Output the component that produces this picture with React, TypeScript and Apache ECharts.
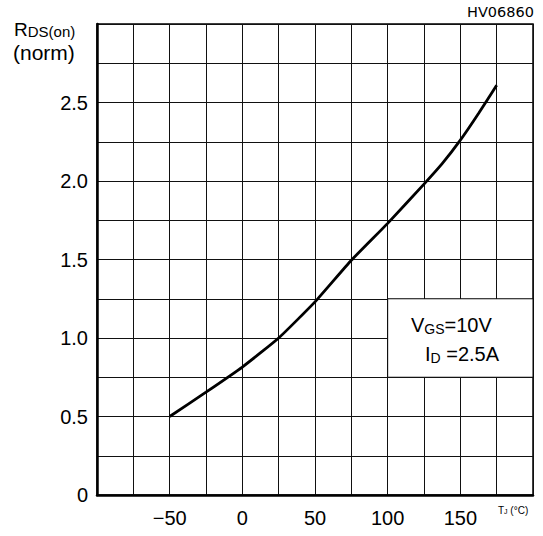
import React, { useEffect, useRef } from "react";
import * as echarts from "echarts";

const temps = [-50, -25, 0, 25, 50, 75, 100, 125, 137.5, 150, 162.5, 175];
const rdsNorm = [0.5, 0.655, 0.815, 1.0, 1.23, 1.495, 1.73, 1.98, 2.11, 2.26, 2.43, 2.61];
const xTickLabels = [-50, 0, 50, 100, 150];
const yTickLabels = [0, 0.5, 1.0, 1.5, 2.0, 2.5];

const FONT = "Liberation Sans";

export default function App() {
  const ref = useRef<HTMLDivElement>(null);
  useEffect(() => {
    if (!ref.current) return;
    const chart = echarts.init(ref.current, undefined, { renderer: "svg" });
    chart.setOption({
      animation: false,
      backgroundColor: "#fff",
      title: {
        text: "HV06860",
        right: 9,
        top: 4,
        padding: 0,
        textStyle: { fontFamily: "DejaVu Sans", fontSize: 14.5, fontWeight: "normal", color: "#000" },
      },
      grid: {
        left: 97,
        right: 10,
        top: 24,
        bottom: 41,
        show: true,
        borderColor: "#000",
        borderWidth: 1.5,
        backgroundColor: "transparent",
      },
      xAxis: {
        type: "value",
        min: -100,
        max: 200,
        interval: 25,
        axisLine: { show: true, onZero: false, lineStyle: { color: "#000", width: 2.5 } },
        axisTick: { show: false },
        splitLine: { show: true, lineStyle: { color: "#111", width: 1 } },
        axisLabel: {
          margin: 13,
          color: "#000",
          fontFamily: FONT,
          fontSize: 20,
          formatter: (v: number) =>
            xTickLabels.includes(v) ? (v < 0 ? "\u2212" + Math.abs(v) : String(v)) : "",
        },
      },
      yAxis: {
        type: "value",
        min: 0,
        max: 3,
        interval: 0.25,
        axisLine: { show: true, onZero: false, lineStyle: { color: "#000", width: 2.5 } },
        axisTick: { show: false },
        splitLine: { show: true, lineStyle: { color: "#111", width: 1 } },
        axisLabel: {
          margin: 9,
          color: "#000",
          fontFamily: FONT,
          fontSize: 20,
          formatter: (v: number) => {
            const hit = yTickLabels.find((t) => Math.abs(t - v) < 1e-9);
            if (hit === undefined) return "";
            return hit === 0 ? "0" : hit.toFixed(1);
          },
        },
      },
      series: [
        {
          type: "line",
          data: temps.map((t, i) => [t, rdsNorm[i]]),
          showSymbol: false,
          smooth: 0.15,
          lineStyle: { color: "#000", width: 2.8 },
          z: 5,
          markArea: {
            silent: true,
            itemStyle: { color: "#fff", borderColor: "#000", borderWidth: 1, opacity: 1 },
            data: [[{ coord: [100, 0.75] }, { coord: [200, 1.25] }]],
          },
        },
      ],
      graphic: [
        {
          type: "text",
          x: 14,
          y: 16,
          style: {
            text: "{a|R}{b|DS(on)}",
            verticalAlign: "top",
            rich: {
              a: { fontFamily: FONT, fontSize: 19, fill: "#000", verticalAlign: "bottom" },
              b: { fontFamily: FONT, fontSize: 15, fill: "#000", padding: [8, 0, 0, 0] },
            },
          },
        },
        {
          type: "text",
          x: 13,
          y: 42,
          style: {
            text: "{a|(norm)}",
            verticalAlign: "top",
            rich: { a: { fontFamily: FONT, fontSize: 21, fill: "#000" } },
          },
        },
        {
          type: "text",
          x: 498,
          y: 505,
          style: {
            text: "{a|T}{b|J}{a| (°C)}",
            verticalAlign: "top",
            rich: {
              a: { fontFamily: FONT, fontSize: 10, fill: "#000" },
              b: { fontFamily: FONT, fontSize: 7, fill: "#000", padding: [3, 0, 0, 0] },
            },
          },
        },
        {
          type: "text",
          x: 411,
          y: 314,
          z: 100,
          style: {
            text: "{a|V}{b|GS}{a|=10V}",
            verticalAlign: "top",
            rich: {
              a: { fontFamily: FONT, fontSize: 20, fill: "#000" },
              b: { fontFamily: FONT, fontSize: 14, fill: "#000", padding: [8, 0, 0, 0] },
            },
          },
        },
        {
          type: "text",
          x: 425,
          y: 343,
          z: 100,
          style: {
            text: "{a|I}{b|D}{a| =2.5A}",
            verticalAlign: "top",
            rich: {
              a: { fontFamily: FONT, fontSize: 20, fill: "#000" },
              b: { fontFamily: FONT, fontSize: 14, fill: "#000", padding: [8, 0, 0, 0] },
            },
          },
        },
      ],
    });
    return () => chart.dispose();
  }, []);
  return (
    <div
      ref={ref}
      style={{ position: "absolute", left: 0, top: 0, width: 543, height: 536 }}
    />
  );
}
